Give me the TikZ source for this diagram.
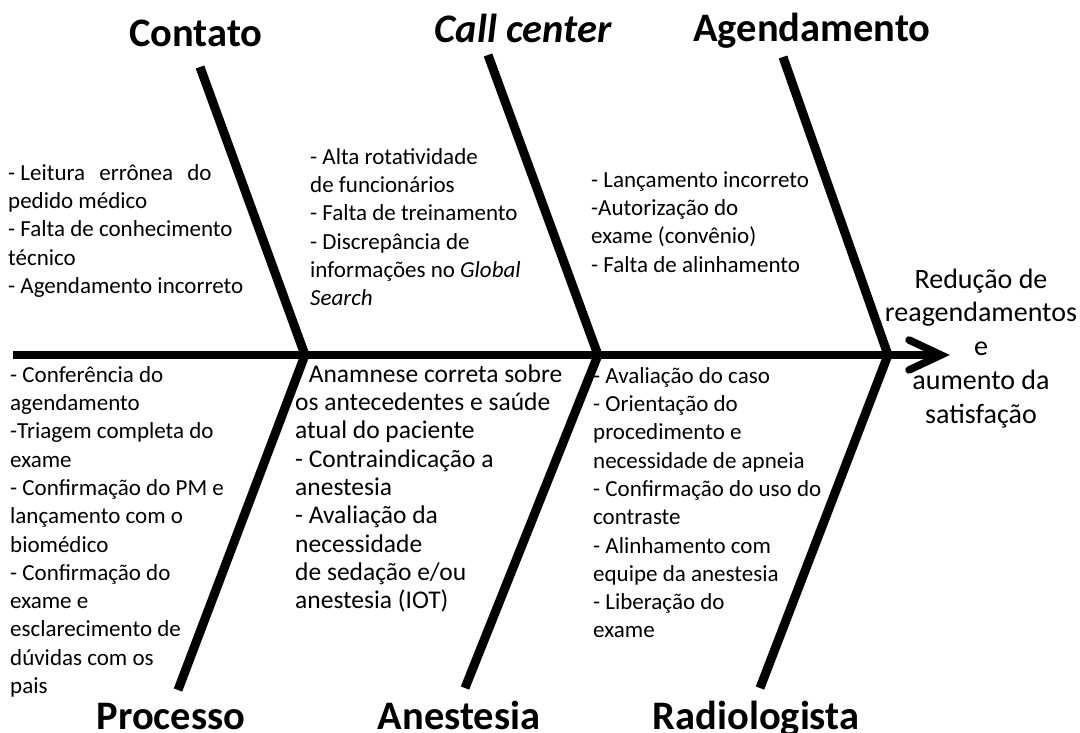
\documentclass[tikz,border=0pt]{standalone}
\usepackage{fontspec}
\setmainfont{Carlito}
\begin{document}
\begin{tikzpicture}[x=1pt,y=-1pt,
  bone/.style={line width=9pt,line join=miter,line cap=butt},
  spine/.style={line width=8pt,line cap=butt},
  head/.style={line width=7.5pt,line cap=round,line join=miter},
  title/.style={font=\fontsize{40.5}{48}\selectfont\bfseries,anchor=base,inner sep=0pt},
  body/.style={font=\fontsize{23}{28.3}\selectfont,align=left,anchor=north west,inner sep=0pt},
  bodybig/.style={body,font=\fontsize{25.5}{28.3}\selectfont},
  effect/.style={font=\fontsize{28}{33.7}\selectfont,align=center,anchor=north,inner sep=0pt}]
\useasboundingbox (0,0) rectangle (1080,733);
\newcommand{\fl}{\rule{0pt}{19pt}}
\newcommand{\flb}{\rule{0pt}{20pt}}
\newcommand{\fle}{\rule{0pt}{23pt}}
% coordinates
\coordinate (spL) at (13,355);
\coordinate (tip) at (941,355);
\coordinate (hA) at (909,340);
\coordinate (hB) at (909,370);
\coordinate (J1) at (305,355);
\coordinate (J2) at (598,355);
\coordinate (J3) at (888,355);
\coordinate (T1) at (200,67);
\coordinate (T2) at (488,55);
\coordinate (T3) at (783,57);
\coordinate (B1) at (178,690);
\coordinate (B2) at (465,688);
\coordinate (B3) at (760,688);
% spine and head
\draw[spine] (spL) -- (tip);
\draw[head] (hA) -- (tip) -- (hB);
% bones
\draw[bone] (T1) -- (J1) -- (B1);
\draw[bone] (T2) -- (J2) -- (B2);
\draw[bone] (T3) -- (J3) -- (B3);
% titles
\node[title] (tContato) at (196,47) {Contato};
\node[title] (tCall) at (523,43) {\itshape Call center};
\node[title] (tAgend) at (812,42) {Agendamento};
\node[title] (tProc) at (171,729) {Processo};
\node[title] (tAnest) at (459,729) {Anestesia};
\node[title] (tRadio) at (756,729) {Radiologista};
% cause texts
\node[body] (cContato) at (8,161) {\fl- Leitura\hspace{9pt} errônea\hspace{9pt} do\\pedido médico\\- Falta de conhecimento\\técnico\\- Agendamento incorreto};
\node[body] (cCall) at (310,145) {\fl- Alta rotatividade\\de funcionários\\- Falta de treinamento\\- Discrepância de\\informações no \textit{Global}\\\textit{Search}};
\node[body] (cAgend) at (591,168) {\fl- Lançamento incorreto\\-Autorização do\\exame (convênio)\\- Falta de alinhamento};
\node[body] (cProc) at (10,363) {\fl- Conferência do\\agendamento\\-Triagem completa do\\exame\\- Confirmação do PM e\\lançamento com o\\biomédico\\- Confirmação do\\exame e\\esclarecimento de\\dúvidas com os\\pais};
\node[bodybig] (cAnest) at (295,362) {\flb- Anamnese correta sobre\\os antecedentes e saúde\\atual do paciente\\- Contraindicação a\\anestesia\\- Avaliação da\\necessidade\\de sedação e/ou\\anestesia (IOT)};
\node[body] (cRadio) at (593,364) {\fl- Avaliação do caso\\- Orientação do\\procedimento e\\necessidade de apneia\\- Confirmação do uso do\\contraste\\- Alinhamento com\\equipe da anestesia\\- Liberação do\\exame};
% effect
\node[effect] (eff) at (981,265) {\fle Redução de\\reagendamentos\\e\\aumento da\\satisfação};
\end{tikzpicture}
\end{document}
